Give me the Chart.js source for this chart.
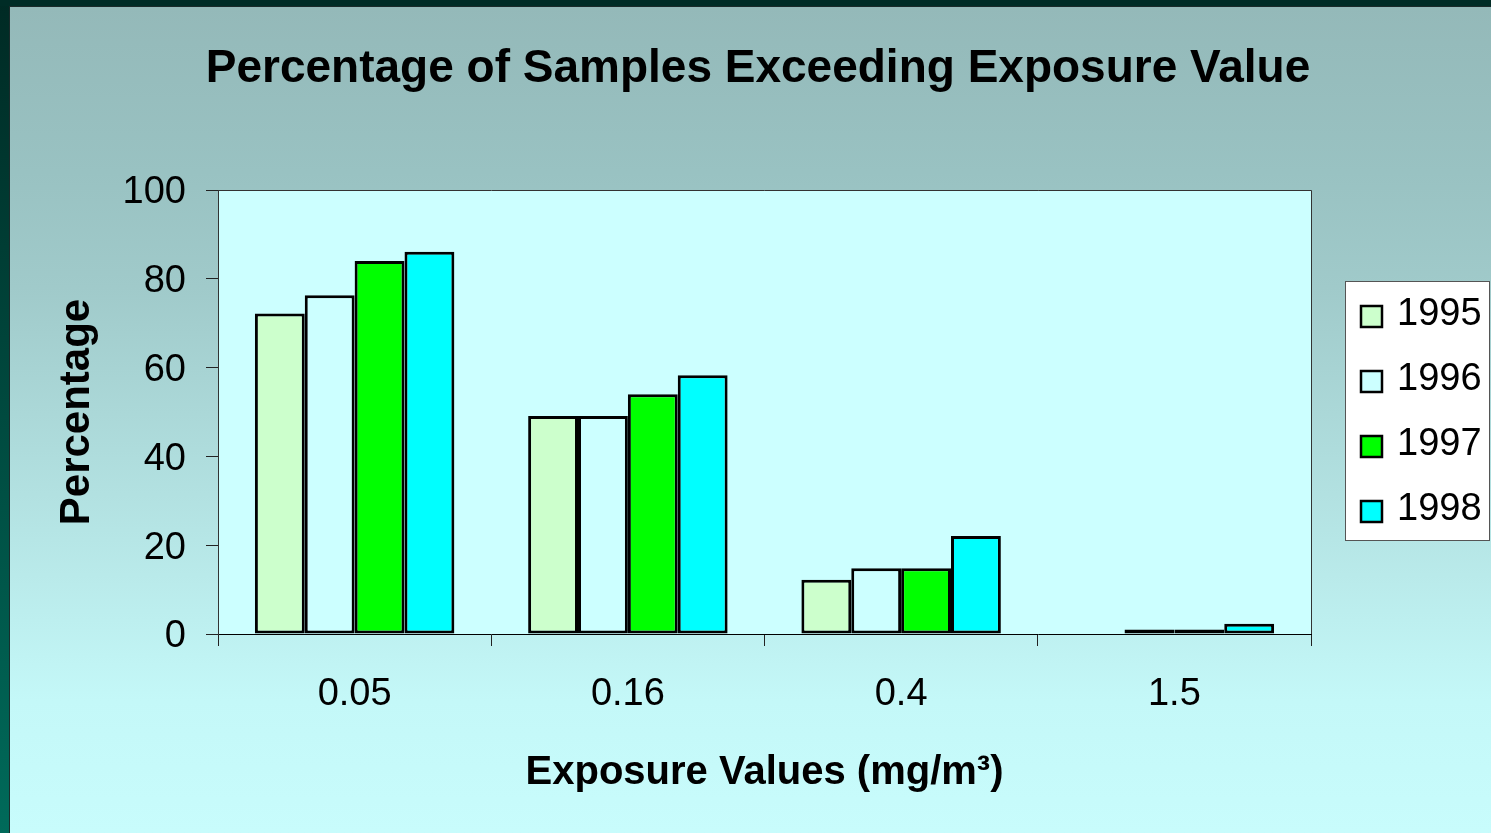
<!DOCTYPE html>
<html>
<head>
<meta charset="utf-8">
<script src="https://cdn.jsdelivr.net/npm/chart.js@4.4.1/dist/chart.umd.min.js"></script>
<style>
  html, body { margin: 0; padding: 0; background: #C8FCFC; }
  #wrap { width: 1491px; height: 833px; position: relative; }
</style>
</head>
<body>
<div id="wrap"><canvas id="c"></canvas></div>
<script>
// ---- data ----
const categories = ['0.05', '0.16', '0.4', '1.5'];
const years = ['1995', '1996', '1997', '1998'];
const v1995 = [72.2, 49.1, 12.2, 0];
const v1996 = [76.3, 49.1, 14.8, 1.0];
const v1997 = [84.0, 54.0, 14.8, 1.0];
const v1998 = [86.1, 58.3, 22.1, 2.3];
const yMin = 0, yMax = 100, yStep = 20;
const titleText = 'Percentage of Samples Exceeding Exposure Value';
const yTitle = 'Percentage';
const xTitle = 'Exposure Values (mg/m\u00B3)';

const colors = ['#CCFFCC', '#CCFFFF', '#00FF00', '#00FFFF'];
const seriesValues = [v1995, v1996, v1997, v1998];

const FONT = "'Liberation Sans', Arial, Helvetica, sans-serif";
Chart.defaults.font.family = FONT;
Chart.defaults.color = '#000';

const bgPlugin = {
  id: 'bgPlugin',
  beforeDraw(chart) {
    const ctx = chart.ctx, W = chart.width, H = chart.height;
    ctx.save();
    const g = ctx.createLinearGradient(0, 7, 0, H);
    g.addColorStop(0, '#94B9B9');
    g.addColorStop(0.2, '#99C2C2');
    g.addColorStop(0.34, '#A0CACA');
    g.addColorStop(0.84, '#C4F8F8');
    g.addColorStop(1, '#C8FCFC');
    ctx.fillStyle = g;
    ctx.fillRect(0, 0, W, H);
    // dark frame left and top
    const lg = ctx.createLinearGradient(0, 0, 0, H);
    lg.addColorStop(0, '#002A24');
    lg.addColorStop(1, '#006A5A');
    ctx.fillStyle = lg;
    ctx.fillRect(0, 0, 9, H);
    ctx.fillStyle = '#002C26';
    ctx.fillRect(0, 0, W, 6);
    ctx.fillStyle = '#1a2a2a';
    ctx.fillRect(9, 6, 1, H);
    ctx.fillRect(9, 6, W, 1);
    // plot area
    const a = chart.chartArea;
    ctx.fillStyle = '#CCFFFF';
    ctx.fillRect(a.left, a.top, a.right - a.left, a.bottom - a.top);
    ctx.restore();
  },
  afterDraw(chart) {
    const ctx = chart.ctx, a = chart.chartArea;
    ctx.save();
    // plot border top/right
    ctx.strokeStyle = '#333';
    ctx.lineWidth = 1;
    ctx.beginPath();
    ctx.moveTo(a.left, a.top + 0.5);
    ctx.lineTo(a.right + 0.5, a.top + 0.5);
    ctx.lineTo(a.right + 0.5, a.bottom);
    ctx.stroke();
    // title
    ctx.fillStyle = '#000';
    ctx.font = 'bold 46px ' + FONT;
    ctx.textAlign = 'center';
    ctx.textBaseline = 'alphabetic';
    ctx.fillText(titleText, 758, 82);
    // legend
    const lx = 1345, ly = 281, lw = 145, lh = 260;
    ctx.fillStyle = '#FFFFFF';
    ctx.fillRect(lx, ly, lw, lh);
    ctx.strokeStyle = '#555';
    ctx.lineWidth = 1;
    ctx.strokeRect(lx + 0.5, ly + 0.5, lw - 1, lh - 1);
    ctx.font = '38px ' + FONT;
    ctx.textAlign = 'left';
    chart.data.datasets.forEach((ds, i) => {
      const base = 325 + i * 65;
      ctx.fillStyle = ds.backgroundColor;
      ctx.fillRect(1361, base - 19, 21, 21);
      ctx.strokeStyle = '#000';
      ctx.lineWidth = 2.5;
      ctx.strokeRect(1361, base - 19, 21, 21);
      ctx.fillStyle = '#000';
      ctx.fillText(ds.label, 1397, base);
    });
    ctx.restore();
  }
};

new Chart(document.getElementById('c'), {
  type: 'bar',
  data: {
    labels: categories,
    datasets: years.map((y, i) => ({
      label: y,
      data: seriesValues[i],
      backgroundColor: colors[i],
      borderColor: '#000',
      borderWidth: 3,
      borderSkipped: false,
      categoryPercentage: 0.73,
      barPercentage: 1.0
    }))
  },
  options: {
    responsive: true,
    maintainAspectRatio: false,
    animation: false,
    devicePixelRatio: 1,
    layout: { padding: { left: 10, top: 190, right: 180, bottom: 0 } },
    plugins: {
      legend: { display: false },
      title: { display: false },
      tooltip: { enabled: false }
    },
    scales: {
      x: {
        offset: true,
        grid: { display: true, offset: true, drawOnChartArea: false, drawTicks: true, tickLength: 12, color: '#222' },
        border: { display: true, color: '#000', width: 1 },
        ticks: { font: { size: 38 }, padding: 26, color: '#000', maxRotation: 0 },
        title: { display: true, text: xTitle, font: { size: 40, weight: 'bold' }, color: '#000', padding: { top: 0, bottom: 36 } },
        afterFit(s) { s.height = 199; }
      },
      y: {
        min: yMin, max: yMax,
        ticks: { stepSize: yStep, font: { size: 38 }, padding: 20, color: '#000', labelOffset: 3 },
        grid: { display: true, drawOnChartArea: false, drawTicks: true, tickLength: 12, color: '#222' },
        border: { display: true, color: '#333', width: 1 },
        title: { display: true, text: yTitle, font: { size: 42, weight: 'bold' }, color: '#000', padding: { top: 42, bottom: 0 } },
        afterFit(s) { s.width = 208; }
      }
    }
  },
  plugins: [bgPlugin]
});
</script>
</body>
</html>
